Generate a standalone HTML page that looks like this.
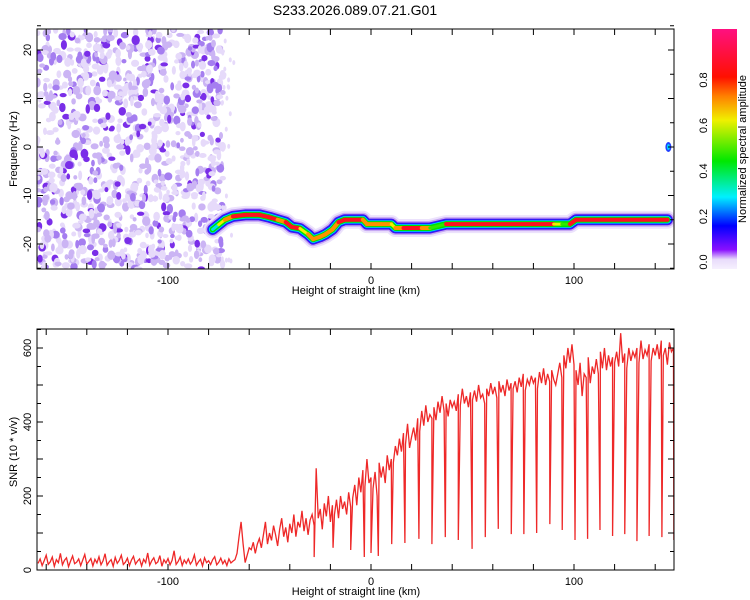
<!DOCTYPE html>
<html><head><meta charset="utf-8"><style>
body{margin:0;background:#fff;}
svg{display:block;font-family:"Liberation Sans",sans-serif;}
</style></head><body>
<svg id="s" width="750" height="600" viewBox="0 0 750 600">
<defs>
<linearGradient id="cb" x1="0" y1="1" x2="0" y2="0">
<stop offset="0" stop-color="#f6f0fe"/><stop offset="0.04" stop-color="#e8dcfb"/>
<stop offset="0.08" stop-color="#8a10ff"/><stop offset="0.18" stop-color="#0000ff"/>
<stop offset="0.3" stop-color="#00f0ff"/><stop offset="0.45" stop-color="#00e800"/>
<stop offset="0.62" stop-color="#f0f000"/><stop offset="0.72" stop-color="#ff8000"/>
<stop offset="0.8" stop-color="#ff1000"/><stop offset="1" stop-color="#ff1080"/>
</linearGradient>
<clipPath id="c1"><rect x="37" y="29" width="637" height="240"/></clipPath>
<clipPath id="c2"><rect x="37" y="329" width="637" height="241"/></clipPath>
</defs>
<text x="355" y="15" font-size="14" text-anchor="middle">S233.2026.089.07.21.G01</text>
<g id="top"></g>
<g id="bot"></g>
<rect x="712" y="29" width="25" height="240" fill="url(#cb)"/>
<g id="cbl"></g>
<text transform="translate(746,149) rotate(-90)" font-size="11" text-anchor="middle">Normalized spectral amplitude</text>
</svg>
<script>
// ---- data ----
const ridgeKm  = [-78,-75,-72,-68,-62,-55,-50,-46,-42,-39,-35,-31,-28.5,-25,-22.5,-19,-16,-13,-4,-2,5,10,12,16,25,29,33,37,40,80,90,94,98,101,146];
const ridgeHz  = [-17,-16,-15,-14.3,-14,-14,-14.5,-15,-15.5,-16.5,-16.8,-18,-19,-18.5,-18,-17,-15.5,-15,-15,-15.9,-15.9,-15.9,-16.7,-16.7,-16.7,-16.7,-16.3,-15.9,-15.9,-15.9,-15.9,-15.9,-15.9,-15,-15];
const ridgeAmp = [0.3,0.5,0.7,0.85,0.95,0.9,0.75,0.85,0.7,0.9,0.7,0.6,0.8,0.6,0.8,0.7,0.7,0.95,0.95,0.6,0.85,0.65,0.6,0.95,0.95,0.6,0.45,0.7,0.95,0.95,0.8,0.45,0.7,0.9,0.95];
const snrStartKm = -164;
const snrStepKm = 1;
const snrValues = [18,30,12,25,40,15,22,35,10,28,20,45,14,26,33,9,24,38,17,21,30,12,27,42,16,23,31,11,29,19,36,14,25,44,13,22,28,10,34,18,26,40,15,21,32,12,27,37,16,24,30,11,29,20,46,13,25,33,17,22,39,10,28,19,31,14,26,52,15,23,35,12,27,18,30,16,24,41,13,22,29,11,33,20,25,15,28,36,14,21,32,17,26,12,30,19,24,
28,45,90,130,70,20,40,60,
55,75,45,70,85,60,95,130,70,100,
80,120,95,65,110,140,90,115,75,125,
100,150,90,130,115,160,105,140,95,135,
150,120,275,140,165,110,180,145,200,130,
175,150,190,140,200,165,185,150,210,170,
195,230,175,250,210,270,225,300,235,250,
220,265,200,290,250,280,235,310,270,300,
290,335,310,355,320,370,340,395,330,360,
385,350,410,375,430,390,445,400,420,410,
440,405,455,425,470,430,450,415,460,440,
455,430,475,445,490,450,470,440,480,460,
485,455,500,465,475,450,490,470,505,475,
495,465,510,480,500,470,515,485,505,490,
510,480,520,495,530,485,515,500,525,505,
520,490,535,505,545,500,530,510,540,515,
500,530,560,520,580,545,600,560,610,555,
540,500,560,470,530,520,575,505,550,530,
570,530,590,545,600,540,580,550,575,560,
590,550,640,560,585,545,600,565,590,575,
600,560,620,570,595,580,610,565,600,580,
610,570,620,580,600,555,615,590,600];
const dipKm  = [-28,-18.7,-10,-3.3,0,3.6,10.2,16.7,23.6,30,36.6,43,49.8,56.3,62.7,69.1,75.3,81.6,88.1,94.2,100.5,106.7,112.8,119,125,131,137,143.3,149.2];
const dipSnr = [35,60,54,35,46,38,70,73,84,70,89,81,57,89,111,97,97,100,124,108,81,84,108,92,97,78,92,89,81];
const xTickLabels = [-100,0,100];
const cbTickLabels = ["0.0","0.2","0.4","0.6","0.8"];

// ---- axes ----
const NS="http://www.w3.org/2000/svg";
const X0=37,X1=674;
const xs=k=>371+(k)*2.03;
const yT=h=>147-h*4.85;
const yB=v=>570-v*0.37;
function mk(t,a,p){const e=document.createElementNS(NS,t);for(const k in a)e.setAttribute(k,a[k]);p.appendChild(e);return e;}
const topG=document.getElementById('top'),botG=document.getElementById('bot');

// noise texture (decorative background speckle) with seeded generator
let seed=12345;function rnd(){seed=(seed*1103515245+12345)%2147483648;return seed/2147483648;}
const ng=mk('g',{'clip-path':'url(#c1)'},topG);


for(let i=0;i<1100;i++){const x=37+rnd()*186,y=29+rnd()*240,r=rnd();
 const c=r<0.45?'#e6dafa':r<0.75?'#cbb4f4':r<0.9?'#a57ef0':'#7a2ee8';
 mk('ellipse',{cx:x,cy:y,rx:1.8+rnd()*2.5,ry:2+rnd()*3,fill:c},ng);}
for(let i=0;i<25;i++){const x=222+rnd()*12,y=29+rnd()*240;mk('ellipse',{cx:x,cy:y,rx:1.5,ry:2.5,fill:'#e6dafa'},ng);}

// ridge
function amp2col(a){if(a>=0.8)return '#ff1020';if(a>=0.7)return '#ff9000';if(a>=0.6)return '#f0f000';if(a>=0.45)return '#30e800';return '#00e0f0';}
const rg=mk('g',{'clip-path':'url(#c1)','stroke-linecap':'round','fill':'none'},topG);


const pts=ridgeKm.map((k,i)=>xs(k)+','+yT(ridgeHz[i])).join(' ');
[['#ece2fc',18],['#c6a8f4',14],['#4a10f0',11],['#0030ff',9],['#00d8ff',7.5],['#00e000',6]].forEach(([c,w])=>mk('polyline',{points:pts,stroke:c,'stroke-width':w,'stroke-linejoin':'round'},rg));
for(let i=0;i<ridgeKm.length-1;i++){const a=(ridgeAmp[i]+ridgeAmp[i+1])/2;
 const l=mk('line',{x1:xs(ridgeKm[i]),y1:yT(ridgeHz[i]),x2:xs(ridgeKm[i+1]),y2:yT(ridgeHz[i+1]),stroke:amp2col(a),'stroke-width':a>=0.7?4:3},rg);
 
 }
const bl=mk('ellipse',{cx:xs(146.5),cy:yT(0),rx:3,ry:5,fill:'#2040ff'},rg);


mk('ellipse',{cx:xs(146.5),cy:yT(0),rx:1.5,ry:3,fill:'#00d0ff'},rg);

// SNR line
const merged=snrValues.map((v,i)=>[snrStartKm+i*snrStepKm,v]);
dipKm.forEach((k,i)=>merged.push([k,dipSnr[i]]));
merged.sort((a,b)=>a[0]-b[0]);
const sl=mk('polyline',{points:merged.map(p=>xs(p[0])+','+yB(p[1])).join(' '),fill:'none',stroke:'#ee2828','stroke-width':1.3,'clip-path':'url(#c2)'},botG);



// frames & ticks
function frame(g,y0,y1,yticks,yfun,ymajor,xlab,ylab,yc){
 mk('rect',{x:X0,y:y0,width:X1-X0,height:y1-y0,fill:'none',stroke:'#000','stroke-width':1},g);
 for(let k=-160;k<=140;k+=20){const x=xs(k);
  mk('line',{x1:x,y1:y1,x2:x,y2:y1-6,stroke:'#000'},g);mk('line',{x1:x,y1:y0,x2:x,y2:y0+6,stroke:'#000'},g);}
 yticks.forEach(v=>{const y=yfun(v),L=(v%ymajor===0)?6:4;
  mk('line',{x1:X0,y1:y,x2:X0+L,y2:y,stroke:'#000'},g);mk('line',{x1:X1,y1:y,x2:X1-L,y2:y,stroke:'#000'},g);});
 xTickLabels.forEach(k=>{const t=mk('text',{x:xs(k),y:y1+15,'font-size':11,'text-anchor':'middle'},g);t.textContent=k;
  
  });
 const xt=mk('text',{x:356,y:y1+25,'font-size':11,'text-anchor':'middle'},g);xt.textContent=xlab;
 
 
 const yt=mk('text',{transform:`translate(17,${yc}) rotate(-90)`,'font-size':11,'text-anchor':'middle'},g);yt.textContent=ylab;
 
 
}
const tt=[];for(let h=-25;h<=25;h+=5)tt.push(h);
frame(topG,29,269,tt,yT,10,'Height of straight line (km)','Frequency (Hz)',149);
[-20,-10,0,10,20].forEach(h=>{const t=mk('text',{transform:`translate(31,${yT(h)}) rotate(-90)`,'font-size':11,'text-anchor':'middle'},topG);t.textContent=h;
 
 });
const bt=[];for(let v=0;v<=650;v+=50)bt.push(v);
frame(botG,329,570,bt,yB,100,'Height of straight line (km)','SNR (10 * v/v)',452);
[0,200,400,600].forEach(v=>{const t=mk('text',{transform:`translate(31,${yB(v)}) rotate(-90)`,'font-size':11,'text-anchor':'middle'},botG);t.textContent=v;
 
 });
// colorbar labels
const cbl=document.getElementById('cbl');
cbTickLabels.forEach((s,i)=>{const y=262-i*45.5;
 const t=mk('text',{transform:`translate(707,${y}) rotate(-90)`,'font-size':11,'text-anchor':'middle'},cbl);t.textContent=s;
 
 });
</script>
</body></html>
